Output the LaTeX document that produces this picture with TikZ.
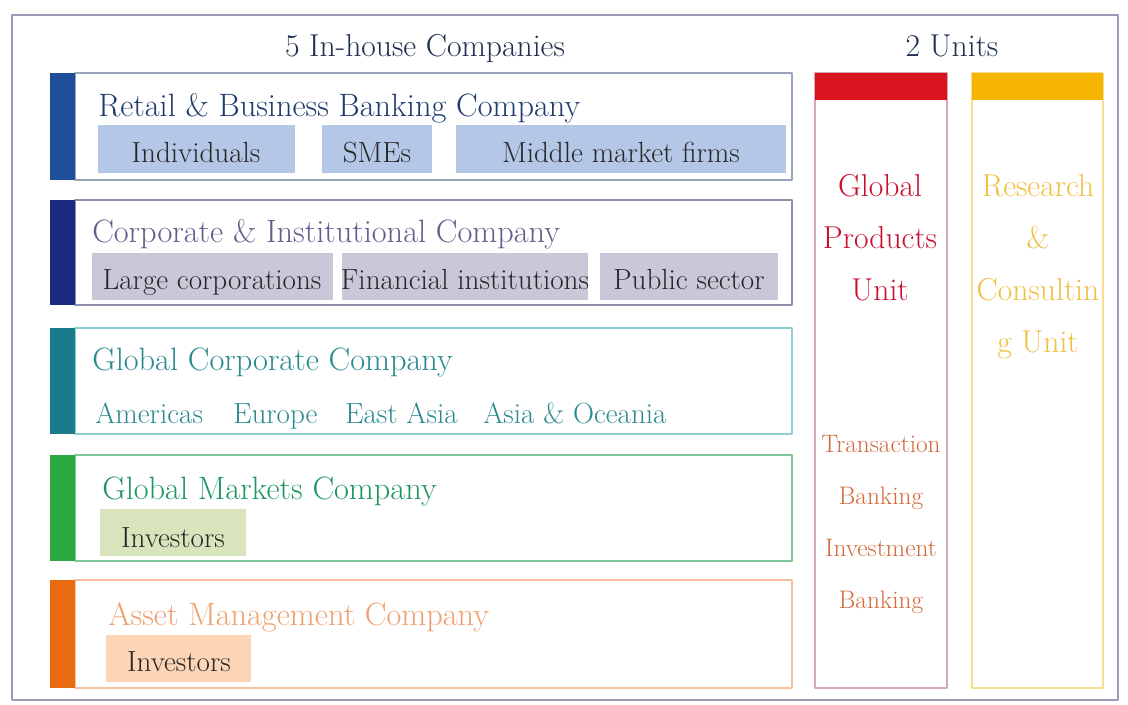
\documentclass[tikz,border=0pt]{standalone}
\newcommand\tnr{\rmfamily}
\definecolor{frameclr}{HTML}{9A9CB8}
\definecolor{headclr}{HTML}{1F2F50}
\definecolor{rbbar}{HTML}{1F4E9A}
\definecolor{rbline}{HTML}{9AA4BC}
\definecolor{rbtxt}{HTML}{1F3A6E}
\definecolor{rbfill}{HTML}{B4C7E7}
\definecolor{cibar}{HTML}{1C2A80}
\definecolor{ciline}{HTML}{8C90A8}
\definecolor{citxt}{HTML}{6A5A8C}
\definecolor{cifill}{HTML}{C8C8D8}
\definecolor{gcbar}{HTML}{1A7B8C}
\definecolor{gcline}{HTML}{8CCFCF}
\definecolor{gctxt}{HTML}{2A8A8E}
\definecolor{gmbar}{HTML}{2CA843}
\definecolor{gmline}{HTML}{7FC69A}
\definecolor{gmtxt}{HTML}{1E9660}
\definecolor{gmfill}{HTML}{D8E4BC}
\definecolor{ambar}{HTML}{E96B10}
\definecolor{amline}{HTML}{F5C0A0}
\definecolor{amtxt}{HTML}{F0A070}
\definecolor{amfill}{HTML}{FBD5B5}
\definecolor{gpbar}{HTML}{D9141E}
\definecolor{gpline}{HTML}{D8A8B8}
\definecolor{gptxt}{HTML}{C8102E}
\definecolor{gpsub}{HTML}{D2693C}
\definecolor{rcbar}{HTML}{F5B400}
\definecolor{rcline}{HTML}{F8DC90}
\definecolor{rctxt}{HTML}{F0C040}

\begin{document}
\begin{tikzpicture}[x=0.025cm,y=-0.025cm,line join=round,
	ttl/.style={anchor=base west,inner sep=0pt,font=\tnr\fontsize{23}{23}\selectfont},
	subtxt/.style={anchor=base,inner sep=0pt,text=black!85,font=\tnr\fontsize{20.7}{20}\selectfont},
	unittxt/.style={anchor=base,inner sep=0pt,font=\tnr\fontsize{22.5}{22}\selectfont},
	smalltxt/.style={anchor=base,inner sep=0pt,font=\tnr\fontsize{18}{18}\selectfont}]
	\useasboundingbox (0,0) rectangle (1128,704);
	\fill[white] (0,0) rectangle (1128,704);
	\draw[frameclr,line width=1.5pt] (12,15) rectangle (1118,700);
	\node[headclr,anchor=base,inner sep=0pt,font=\tnr\fontsize{22.5}{22}\selectfont] (inhouse) at (425,56) {5 In-house Companies};
	\node[headclr,anchor=base,inner sep=0pt,font=\tnr\fontsize{22.5}{22}\selectfont] (units) at (952,56) {2 Units};
	% Retail & Business Banking
	\draw[rbline,line width=1.8pt] (75,73) rectangle (792,180);
	\fill[rbbar] (50,73) rectangle (75,180);
	\node[ttl,rbtxt] (rbc) at (98,116) {Retail \& Business Banking Company};
	\fill[rbfill] (98,125) rectangle (295,173);
	\fill[rbfill] (322,125) rectangle (432,173);
	\fill[rbfill] (456,125) rectangle (786,173);
	\node[subtxt] (ind) at (196,162) {Individuals};
	\node[subtxt] (sme) at (377,162) {SMEs};
	\node[subtxt] (mmf) at (621,162) {Middle market firms};
	% Corporate & Institutional
	\draw[ciline,line width=1.8pt] (75,200) rectangle (792,305);
	\fill[cibar] (50,200) rectangle (75,305);
	\node[ttl,citxt] (cic) at (92,242) {Corporate \& Institutional Company};
	\fill[cifill] (92,253) rectangle (333,300);
	\fill[cifill] (342,253) rectangle (588,300);
	\fill[cifill] (600,253) rectangle (778,300);
	\node[subtxt] (lc) at (212,289) {Large corporations};
	\node[subtxt] (fi) at (465,289) {Financial institutions};
	\node[subtxt] (ps) at (689,289) {Public sector};
	% Global Corporate
	\draw[gcline,line width=1.8pt] (75,328) rectangle (792,434);
	\fill[gcbar] (50,328) rectangle (75,434);
	\node[ttl,gctxt] (gcc) at (92,370) {Global Corporate Company};
	\node[ttl,gctxt,font=\tnr\fontsize{20.7}{20}\selectfont] (am) at (95,423) {Americas};
	\node[ttl,gctxt,font=\tnr\fontsize{20.7}{20}\selectfont] (eu) at (233,423) {Europe};
	\node[ttl,gctxt,font=\tnr\fontsize{20.7}{20}\selectfont] (ea) at (345,423) {East Asia};
	\node[ttl,gctxt,font=\tnr\fontsize{20.7}{20}\selectfont] (ao) at (483,423) {Asia \& Oceania};
	% Global Markets
	\draw[gmline,line width=1.8pt] (75,455) rectangle (792,561);
	\fill[gmbar] (50,455) rectangle (75,561);
	\node[ttl,gmtxt] (gmc) at (102,499) {Global Markets Company};
	\fill[gmfill] (100,509) rectangle (246,556);
	\node[subtxt] (gminv) at (173,547) {Investors};
	% Asset Management
	\draw[amline,line width=1.8pt] (75,580) rectangle (792,688);
	\fill[ambar] (50,580) rectangle (75,688);
	\node[ttl,amtxt] (amc) at (108,625) {Asset Management Company};
	\fill[amfill] (106,635) rectangle (251,682);
	\node[subtxt] (aminv) at (179,671) {Investors};
	% units
	\draw[gpline,line width=1.5pt] (815,73) rectangle (947,688);
	\fill[gpbar] (815,73) rectangle (947,100);
	\foreach \t [count=\i] in {Global,Products,Unit}
		\node[unittxt,gptxt] (gp\i) at (880,144+52*\i) {\t};
	\foreach \t [count=\i] in {Transaction,Banking,Investment,Banking}
		\node[smalltxt,gpsub] (tb\i) at (881,400+52*\i) {\t};
	\draw[rcline,line width=1.5pt] (972,73) rectangle (1103,688);
	\fill[rcbar] (972,73) rectangle (1103,100);
	\foreach \t [count=\i] in {Research,\&,Consultin,g Unit}
		\node[unittxt,rctxt] (rc\i) at (1038,144+52*\i) {\t};
\end{tikzpicture}
\end{document}
